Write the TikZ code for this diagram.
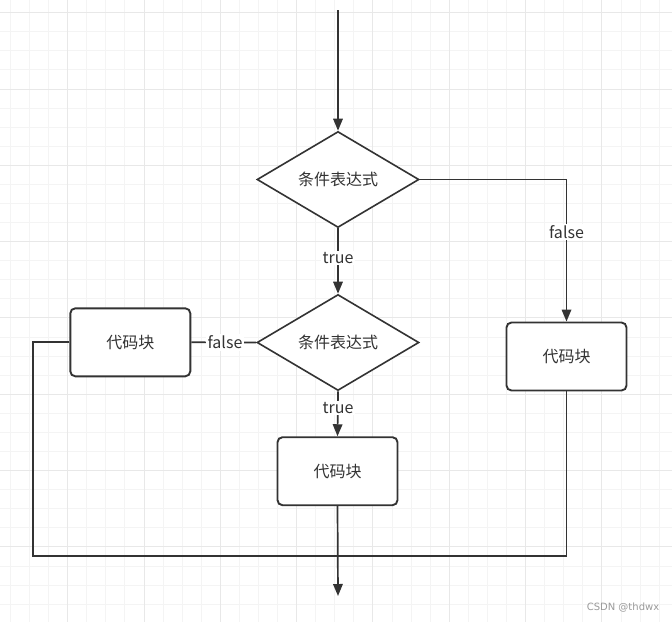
\documentclass[tikz,border=0pt]{standalone}
\usepackage{fontspec}
\setmainfont{Noto Sans CJK SC}
\newfontfamily\wmfont{DejaVu Sans}
\usetikzlibrary{shapes.geometric,arrows.meta}
\definecolor{ink}{HTML}{333333}
\definecolor{gridminor}{HTML}{F4F4F4}
\definecolor{gridmajor}{HTML}{E8E8E8}
\definecolor{wmgray}{HTML}{9A9A9A}
\tikzset{
  conn/.style={draw=ink, line width=1.7pt},
  arr/.style={conn, -{Triangle[length=12pt,width=9.5pt]}},
  dia/.style={diamond, aspect=1.7, draw=ink, line width=1.6pt, fill=white,
    minimum width=162pt, minimum height=96pt, inner sep=0pt,
    font=\fontsize{16}{19}\selectfont, text=ink},
  blk/.style={rectangle, rounded corners=5pt, draw=ink, line width=1.9pt, fill=white,
    minimum width=120pt, minimum height=68pt, inner sep=0pt,
    font=\fontsize{16}{19}\selectfont, text=ink},
  lbl/.style={fill=white, inner sep=1.5pt, font=\fontsize{16}{19}\selectfont, text=ink},
}
\begin{document}
\begin{tikzpicture}[x=1pt,y=-1pt]
\useasboundingbox (0,0) rectangle (672,622);
\fill[white] (0,0) rectangle (672,622);
% grid
\foreach \i in {0,...,34} {
  \pgfmathsetmacro\xx{10.46+\i*19.08}
  \draw[gridminor, line width=1pt] (\xx,0) -- (\xx,622);
}
\foreach \j in {0,...,31} {
  \pgfmathsetmacro\yy{12.7+\j*19.08}
  \draw[gridminor, line width=1pt] (0,\yy) -- (672,\yy);
}
\foreach \i in {3,7,...,31} {
  \pgfmathsetmacro\xx{10.46+\i*19.08}
  \draw[gridmajor, line width=1pt] (\xx,0) -- (\xx,622);
}
\foreach \j in {0,4,...,28} {
  \pgfmathsetmacro\yy{12.7+\j*19.08}
  \draw[gridmajor, line width=1pt] (0,\yy) -- (672,\yy);
}
% nodes
\node[dia] (d1) at (338,179.5) {条件表达式};
\node[dia] (d2) at (338,342.5) {条件表达式};
\node[blk] (b1) at (130.3,342.3) {代码块};
\node[blk] (b2) at (337.5,471.2) {代码块};
\node[blk] (b3) at (566.5,356.5) {代码块};
\coordinate (top) at (338,10);
\coordinate (bot) at (338,596);
\coordinate (cl) at (33,556);
\coordinate (cr) at (566.5,556);
% connectors
\draw[arr] (top) -- (d1.north);
\draw[arr] (d1.east) -| (b3.north);
\draw[arr] (d1.south) -- (d2.north);
\draw[conn] (d2.west) -- (b1.east);
\draw[arr] (d2.south) -- (b2.north);
\draw[conn] (b1.west) -| (cl) -- (cr) -- (b3.south);
\draw[arr] (b2.south) -- (bot);
% labels
\node[lbl] (l1) at (566.5,232) {false};
\node[lbl] (l2) at (338,258) {true};
\node[lbl] (l3) at (225,342.5) {false};
\node[lbl] (l4) at (338,408) {true};
% watermark
\node[text=wmgray, font=\wmfont\fontsize{10}{12}\selectfont, inner sep=0pt] (wm) at (623,608) {CSDN @thdwx};
\end{tikzpicture}
\end{document}
